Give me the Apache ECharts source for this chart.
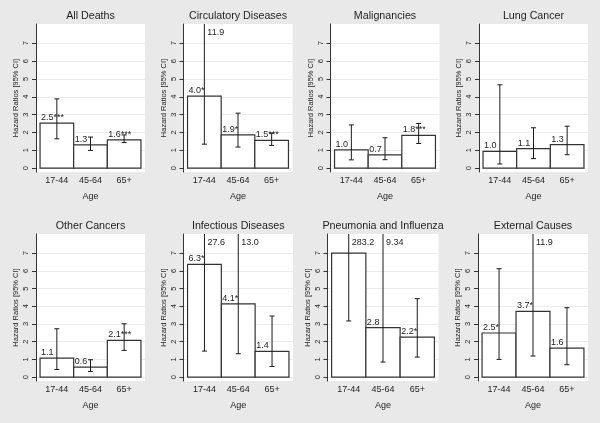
<!DOCTYPE html>
<html><head><meta charset="utf-8">
<script src="https://cdn.jsdelivr.net/npm/echarts@6/dist/echarts.min.js"></script>
<style>html,body{margin:0;padding:0;background:#e9e9e9}#c{width:600px;height:423px}</style>
</head><body><div id="c"></div>
<script>
const ageGroups = ['17-44', '45-64', '65+'];
const yTickValues = [0, 1, 2, 3, 4, 5, 6, 7];
const panelTitles = ['All Deaths', 'Circulatory Diseases', 'Malignancies', 'Lung Cancer',
  'Other Cancers', 'Infectious Diseases', 'Pneumonia and Influenza', 'External Causes'];

const allDeathsHR = [2.52, 1.30, 1.58], allDeathsLo = [1.64, 0.99, 1.43], allDeathsHi = [3.88, 1.74, 1.86];
const allDeathsLabels = ['2.5***', '1.3', '1.6***'], allDeathsHiText = ['', '', ''];

const circulatoryHR = [4.03, 1.86, 1.55], circulatoryLo = [1.34, 1.18, 1.27], circulatoryHi = [11.9, 3.08, 1.96];
const circulatoryLabels = ['4.0*', '1.9*', '1.5***'], circulatoryHiText = ['11.9', '', ''];

const malignHR = [1.02, 0.74, 1.83], malignLo = [0.46, 0.47, 1.38], malignHi = [2.42, 1.70, 2.50];
const malignLabels = ['1.0', '0.7', '1.8***'], malignHiText = ['', '', ''];

const lungHR = [0.94, 1.09, 1.32], lungLo = [0.23, 0.53, 0.75], lungHi = [4.67, 2.26, 2.35];
const lungLabels = ['1.0', '1.1', '1.3'], lungHiText = ['', '', ''];

const otherCaHR = [1.07, 0.56, 2.07], otherCaLo = [0.43, 0.32, 1.51], otherCaHi = [2.73, 0.98, 3.01];
const otherCaLabels = ['1.1', '0.6', '2.1***'], otherCaHiText = ['', '', ''];

const infectHR = [6.37, 4.14, 1.45], infectLo = [1.47, 1.32, 0.60], infectHi = [27.6, 13.0, 3.45];
const infectLabels = ['6.3*', '4.1*', '1.4'], infectHiText = ['27.6', '13.0', ''];

const pneuHR = [7.0, 2.79, 2.26], pneuLo = [3.17, 0.85, 1.13], pneuHi = [283.2, 9.34, 4.43];
const pneuLabels = ['', '2.8', '2.2*'], pneuHiText = ['283.2', '9.34', ''];

const externalHR = [2.49, 3.71, 1.64], externalLo = [1.00, 1.19, 0.70], externalHi = [6.12, 11.9, 3.92];
const externalLabels = ['2.5*', '3.7*', '1.6'], externalHiText = ['', '11.9', ''];

const panels = [
  [allDeathsHR, allDeathsLo, allDeathsHi, allDeathsLabels, allDeathsHiText],
  [circulatoryHR, circulatoryLo, circulatoryHi, circulatoryLabels, circulatoryHiText],
  [malignHR, malignLo, malignHi, malignLabels, malignHiText],
  [lungHR, lungLo, lungHi, lungLabels, lungHiText],
  [otherCaHR, otherCaLo, otherCaHi, otherCaLabels, otherCaHiText],
  [infectHR, infectLo, infectHi, infectLabels, infectHiText],
  [pneuHR, pneuLo, pneuHi, pneuLabels, pneuHiText],
  [externalHR, externalLo, externalHi, externalLabels, externalHiText]
];

const Y_MIN = -0.22, Y_MAX = 8.08;
const FONT = "'Liberation Sans', Arial, Helvetica, sans-serif";
const layout = [
  {left: 36, top: 24, width: 109, height: 148},
  {left: 183.5, top: 24, width: 109, height: 148},
  {left: 330.5, top: 24, width: 109, height: 148},
  {left: 479, top: 24, width: 109, height: 148},
  {left: 36, top: 234, width: 109, height: 147},
  {left: 183.5, top: 234, width: 109.5, height: 147},
  {left: 327.5, top: 234, width: 111, height: 147},
  {left: 478, top: 234, width: 110, height: 147}
];

const grid = [], xAxis = [], yAxis = [], series = [], title = [];
panels.forEach((p, k) => {
  const L = layout[k];
  grid.push({left: L.left, top: L.top, width: L.width, height: L.height, show: true,
    backgroundColor: '#ffffff', borderWidth: 0});
  title.push({text: panelTitles[k], left: L.left + L.width / 2, top: L.top - 13, textAlign: 'center', padding: 0,
    textStyle: {fontFamily: FONT, fontSize: 10.7, fontWeight: 'normal', color: '#1e1e1e'}});
  xAxis.push({type: 'value', gridIndex: k, min: -0.62, max: 2.62, position: 'bottom',
    name: 'Age', nameLocation: 'middle', nameGap: 20,
    nameTextStyle: {fontFamily: FONT, fontSize: 9, color: '#1e1e1e'},
    axisLine: {show: false, onZero: false}, axisTick: {show: false}, splitLine: {show: false},
    axisLabel: {customValues: [0, 1, 2], formatter: v => ageGroups[Math.round(v)] || '',
      margin: 4, fontFamily: FONT, fontSize: 9, color: '#1e1e1e'}});
  yAxis.push({type: 'value', gridIndex: k, min: Y_MIN, max: Y_MAX, position: 'left',
    name: 'Hazard Ratios [95% CI]', nameLocation: 'middle', nameGap: 16,
    nameTextStyle: {fontFamily: FONT, fontSize: 7.5, color: '#1e1e1e'},
    axisLine: {show: true, onZero: false, lineStyle: {color: '#333', width: 1}},
    axisTick: {show: true, length: 4, customValues: yTickValues, lineStyle: {color: '#333'}},
    axisLabel: {customValues: yTickValues, rotate: 90, margin: 6, fontFamily: FONT, fontSize: 7.5, color: '#1e1e1e'},
    splitLine: {show: true, lineStyle: {color: '#ececec', width: 1}}});
  const [hr, lo, hi, labels, hiText] = p;
  const data = hr.map((v, i) => [i, v, lo[i], hi[i]]);
  series.push({type: 'custom', xAxisIndex: k, yAxisIndex: k, data: data, silent: true,
    renderItem: (params, api) => {
      const x = api.value(0), v = api.value(1);
      const a = api.coord([x - 0.5, v]), b = api.coord([x + 0.5, 0]);
      return {type: 'rect', shape: {x: a[0], y: a[1], width: b[0] - a[0], height: b[1] - a[1]},
        style: {fill: '#ffffff', stroke: '#333333', lineWidth: 1.2}};
    }});
  series.push({type: 'custom', xAxisIndex: k, yAxisIndex: k, data: data, silent: true, z: 3,
    renderItem: (params, api) => {
      const i = params.dataIndex;
      const x = api.value(0), v = api.value(1), l = api.value(2), h = api.value(3);
      const over = h > Y_MAX;
      const top = api.coord([x, Math.min(h, Y_MAX)]);
      const bot = api.coord([x, l]);
      const barTL = api.coord([x - 0.5, v]);
      const cx = top[0];
      const st = {stroke: '#1a1a1a', lineWidth: 1};
      const ch = [
        {type: 'line', shape: {x1: cx, y1: top[1], x2: cx, y2: bot[1]}, style: st},
        {type: 'line', shape: {x1: cx - 2.5, y1: bot[1], x2: cx + 2.5, y2: bot[1]}, style: st}
      ];
      if (!over) ch.push({type: 'line', shape: {x1: cx - 2.5, y1: top[1], x2: cx + 2.5, y2: top[1]}, style: st});
      if (labels[i]) ch.push({type: 'text', x: barTL[0] + 1, y: barTL[1] - 1,
        style: {text: labels[i], fill: '#1e1e1e', font: '9px ' + FONT, textAlign: 'left', textVerticalAlign: 'bottom'}});
      if (over && hiText[i]) ch.push({type: 'text', x: cx + 3, y: top[1] + 4,
        style: {text: hiText[i], fill: '#1e1e1e', font: '9px ' + FONT, textAlign: 'left', textVerticalAlign: 'top'}});
      return {type: 'group', children: ch};
    }});
});

const chart = echarts.init(document.getElementById('c'), null, {renderer: 'canvas'});
chart.setOption({backgroundColor: '#e9e9e9', animation: false, title, grid, xAxis, yAxis, series});
</script></body></html>
